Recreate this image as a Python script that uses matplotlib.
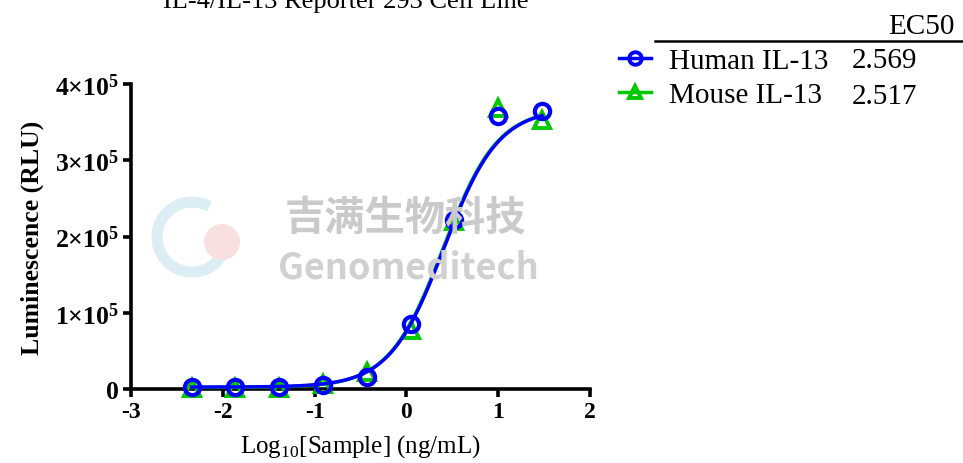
import numpy as np
import matplotlib
matplotlib.use("Agg")
import matplotlib.pyplot as plt
from matplotlib.lines import Line2D
from matplotlib.patches import Circle, Arc

plt.rcParams['font.family'] = ['Liberation Serif', 'DejaVu Serif']
plt.rcParams['mathtext.fontset'] = 'custom'
plt.rcParams['mathtext.rm'] = 'Liberation Serif'
plt.rcParams['mathtext.bf'] = 'Liberation Serif:bold'
plt.rcParams['axes.unicode_minus'] = False

# log10 concentration (ng/mL), 3-fold dilutions from 30 ng/mL
log_conc = [1.477, 1.000, 0.523, 0.046, -0.431, -0.908, -1.386, -1.863, -2.340]
human_rlu = [365000, 358000, 222000, 85000, 16000, 5000, 3000, 2500, 2500]
mouse_rlu = [353000, 368000, 220000, 78000, 22000, 6000, 1500, 1000, 1000]

# 4PL fit parameters (bottom, top, EC50 ng/mL, hill)
human_fit = (2500, 368000, 2.569, 1.47)
mouse_fit = (2000, 368000, 2.517, 1.47)

names = ['Human IL-13', 'Mouse IL-13']
ec50_labels = ['2.569', '2.517']
colors = ['#0000ff', '#00c800']

xticks = [-3, -2, -1, 0, 1, 2]
yticks = [0, 100000, 200000, 300000, 400000]
ytick_labels = ['0', r'$\mathbf{1{\times}10^5}$', r'$\mathbf{2{\times}10^5}$',
                r'$\mathbf{3{\times}10^5}$', r'$\mathbf{4{\times}10^5}$']


def four_pl(x, bottom, top, ec50, hill):
    return bottom + (top - bottom) / (1 + 10 ** ((np.log10(ec50) - x) * hill))


W, H = 963, 464
fig = plt.figure(figsize=(W / 100, H / 100), dpi=100)

# faint logo + watermark text
fig.add_artist(Arc((192, H - 238), 70, 70, theta1=60, theta2=330, transform=None,
                   edgecolor='#dcedf3', lw=8, zorder=0))
fig.add_artist(Circle((222, H - 243), 18, transform=None, facecolor='#f8e0e0',
                      edgecolor='none', zorder=0))
fig.text(405 / W, 1 - 218 / H, '吉满生物科技', ha='center', va='center', fontsize=29,
         fontweight='bold', color='#cacaca', family=['Noto Sans CJK SC'], zorder=0)
fig.text(408 / W, 1 - 268 / H, 'Genomeditech', ha='center', va='center', fontsize=26,
         fontweight='bold', color='#d0d0d0', family=['Noto Sans CJK SC'], zorder=0)

ax = fig.add_axes([131 / W, 1 - 390 / H, (590 - 131) / W, (390 - 85) / H])
ax.patch.set_visible(False)

xs = np.linspace(min(log_conc), max(log_conc), 300)

# mouse underneath, human on top
ax.plot(xs, four_pl(xs, *mouse_fit), color=colors[1], lw=2.5, clip_on=False, zorder=3)
ax.plot(log_conc, mouse_rlu, ls='none', marker='^', ms=11, mew=2.8, mfc='none',
        mec=colors[1], clip_on=False, zorder=4)
ax.plot(xs, four_pl(xs, *human_fit), color=colors[0], lw=2.5, clip_on=False, zorder=5)
ax.plot(log_conc, human_rlu, ls='none', marker='o', ms=11, mew=3, mfc='none',
        mec=colors[0], clip_on=False, zorder=6)

ax.set_xlim(-3, 2)
ax.set_ylim(0, 400000)
ax.set_xticks(xticks)
ax.set_xticklabels([str(t) for t in xticks])
ax.set_yticks(yticks)
ax.set_yticklabels(ytick_labels)
for lab in ax.get_xticklabels():
    lab.set_fontweight('bold')
    lab.set_fontsize(17)
for lab in ax.get_yticklabels():
    lab.set_fontweight('bold')
    lab.set_fontsize(18.5)

for side in ['top', 'right']:
    ax.spines[side].set_visible(False)
for side in ['left', 'bottom']:
    ax.spines[side].set_linewidth(2.6)
    ax.spines[side].set_zorder(2)
ax.tick_params(width=2.6, length=6, direction='out', pad=3)

ax.set_xlabel(r'Log$_{10}$[Sample] (ng/mL)', fontsize=18, labelpad=7)
ax.set_ylabel('Luminescence (RLU)', fontsize=18.5, fontweight='bold', labelpad=8)

fig.text(346 / W, 1 - 8 / H, 'IL-4/IL-13 Reporter 293 Cell Line',
         ha='center', va='baseline', fontsize=19)

# legend with EC50 column
handles = [Line2D([], [], color=colors[0], lw=2.5, marker='o', ms=9, mew=2.8, mfc='none'),
           Line2D([], [], color=colors[1], lw=2.5, marker='^', ms=9, mew=2.8, mfc='none')]
fig.legend(handles, names, loc='center left', bbox_to_anchor=(619 / W, 1 - 79 / H),
           frameon=False, fontsize=21, handlelength=1.1, handletextpad=0.6,
           labelspacing=0.25, borderpad=0, borderaxespad=0)
for i, val in enumerate(ec50_labels):
    fig.text(852 / W, 1 - (61 + 36 * i) / H, val, ha='left', va='center', fontsize=21)
fig.text(955 / W, 1 - 34 / H, 'EC50', ha='right', va='baseline', fontsize=21)
fig.add_artist(Line2D([655 / W, 1.0], [1 - 42 / H, 1 - 42 / H], color='black', lw=1.8))

fig.savefig('out.png', dpi=100)
